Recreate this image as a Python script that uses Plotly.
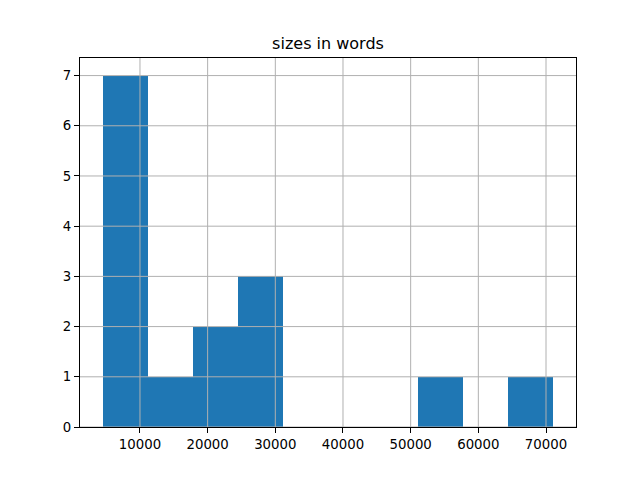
import plotly.graph_objects as go

# Histogram data (10 bins)
bin_start = 4470
bin_end = 71100
counts = [7, 1, 2, 3, 0, 0, 0, 1, 0, 1]
x_ticks = [10000, 20000, 30000, 40000, 50000, 60000, 70000]
y_ticks = [0, 1, 2, 3, 4, 5, 6, 7]
title_text = "sizes in words"

n = len(counts)
width = (bin_end - bin_start) / n
centers = [bin_start + width * (i + 0.5) for i in range(n)]

span = bin_end - bin_start
x_range = [bin_start - 0.05 * span, bin_end + 0.05 * span]
y_range = [0, max(counts) * 1.05]

fig = go.Figure(go.Bar(
    x=centers, y=counts, width=[width] * n,
    marker=dict(color="#1f77b4", line=dict(width=0)),
    hoverinfo="skip",
))

grid = dict(color="#b0b0b0", width=1)
shapes = []
for v in x_ticks:
    shapes.append(dict(type="line", xref="x", yref="paper", x0=v, x1=v, y0=0, y1=1,
                       line=grid, layer="above"))
for v in y_ticks:
    shapes.append(dict(type="line", xref="paper", yref="y", x0=0, x1=1, y0=v, y1=v,
                       line=grid, layer="above"))

axis_common = dict(
    showgrid=False, zeroline=False, showline=True, linecolor="black", linewidth=1,
    mirror=True, ticks="outside", ticklen=5, tickwidth=1, tickcolor="black",
    tickfont=dict(family="DejaVu Sans", size=13.3, color="black"),
)

# page body has an 8px margin; compensate so the plot area lands at 80..576 x 58..427
fig.update_layout(
    width=640, height=480,
    margin=dict(l=72, r=72, t=50, b=61),
    paper_bgcolor="white", plot_bgcolor="white",
    bargap=0, showlegend=False,
    title=dict(text=title_text, x=0.5, xanchor="center",
               y=1 - 35 / 480, yanchor="middle", yref="container",
               font=dict(family="DejaVu Sans", size=16, color="black")),
    xaxis=dict(range=x_range, tickvals=x_ticks, ticktext=[str(v) for v in x_ticks], **axis_common),
    yaxis=dict(range=y_range, tickvals=y_ticks, ticktext=[str(v) for v in y_ticks], **axis_common),
    shapes=shapes,
)

fig.write_html("out.html")
